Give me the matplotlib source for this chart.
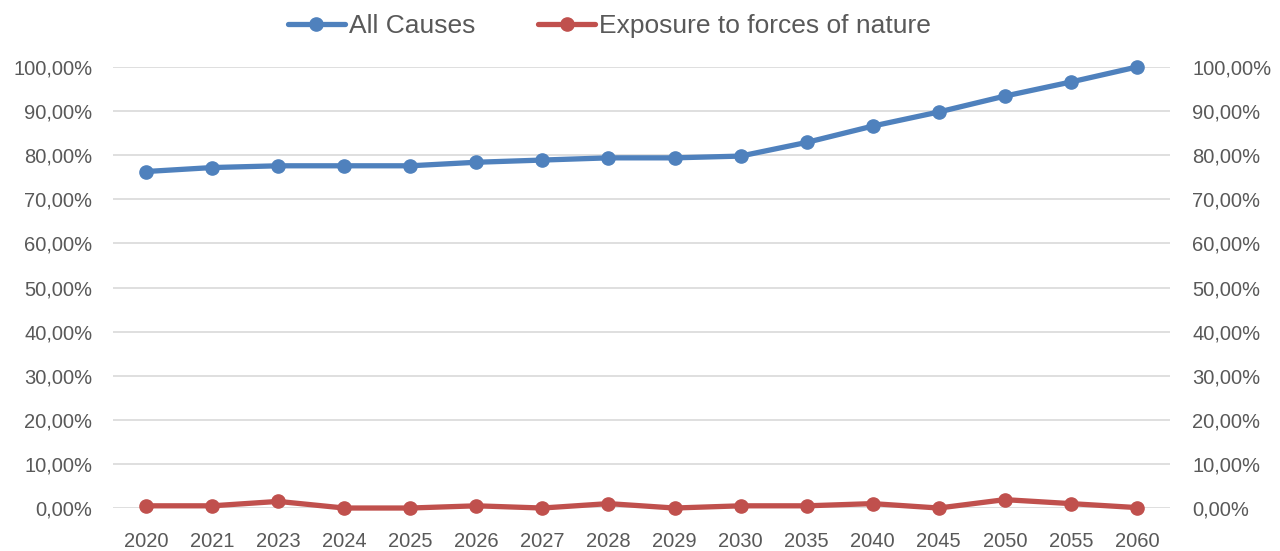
import matplotlib
matplotlib.use('Agg')
import matplotlib.pyplot as plt
from matplotlib.ticker import FuncFormatter, MultipleLocator

# Share of deaths by year (fraction of 1)
years = ['2020', '2021', '2023', '2024', '2025', '2026', '2027', '2028',
         '2029', '2030', '2035', '2040', '2045', '2050', '2055', '2060']
all_causes = [0.763, 0.772, 0.776, 0.776, 0.776, 0.784, 0.789, 0.794,
              0.794, 0.798, 0.829, 0.866, 0.898, 0.934, 0.966, 1.000]
forces_of_nature = [0.005, 0.005, 0.015, 0.000, 0.000, 0.005, 0.000, 0.010,
                    0.000, 0.005, 0.005, 0.010, 0.000, 0.019, 0.010, 0.001]

BLUE = '#4F81BD'
RED = '#C0504D'
GREY = '#595959'
GRID = '#D9D9D9'

plt.rcParams['font.family'] = ['Liberation Sans', 'DejaVu Sans']

fig = plt.figure(figsize=(12.8, 5.51), dpi=100)
ax = fig.add_axes([0.0883, 0.078, 0.8257, 0.8004])
x = list(range(len(years)))

ax.plot(x, all_causes, color=BLUE, lw=3.8, marker='o', ms=9.5,
        label='All Causes', solid_capstyle='round', clip_on=False, zorder=3)
ax.plot(x, forces_of_nature, color=RED, lw=3.8, marker='o', ms=9.5,
        label='Exposure to forces of nature', solid_capstyle='round',
        clip_on=False, zorder=3)

ax.set_xlim(-0.5, len(years) - 0.5)
ax.set_ylim(0, 1.0)
ax.yaxis.set_major_locator(MultipleLocator(0.1))
pct = FuncFormatter(lambda v, _: f'{v * 100:.2f}%'.replace('.', ','))
ax.yaxis.set_major_formatter(pct)
ax.set_xticks(x)
ax.set_xticklabels(years)
ax.grid(axis='y', color=GRID, lw=1.2)
ax.set_axisbelow(True)
for s in ax.spines.values():
    s.set_visible(False)
ax.tick_params(axis='both', length=0, labelsize=14.5, colors=GREY)
ax.tick_params(axis='y', pad=15)
ax.tick_params(axis='x', pad=17)

# secondary axis on the right with the same scale
ax2 = ax.twinx()
ax2.set_ylim(ax.get_ylim())
ax2.yaxis.set_major_locator(MultipleLocator(0.1))
ax2.yaxis.set_major_formatter(pct)
for s in ax2.spines.values():
    s.set_visible(False)
ax2.tick_params(axis='y', length=0, labelsize=14.5, colors=GREY, pad=16)

leg = ax.legend(loc='center left', bbox_to_anchor=(288 / 1280, 0.952),
                bbox_transform=fig.transFigure, ncol=2, frameon=False,
                fontsize=19, handlelength=2.15, columnspacing=2.4,
                handletextpad=0.15, borderpad=0, borderaxespad=0)
for t in leg.get_texts():
    t.set_color(GREY)

fig.savefig('out.png', dpi=100, facecolor='white')
